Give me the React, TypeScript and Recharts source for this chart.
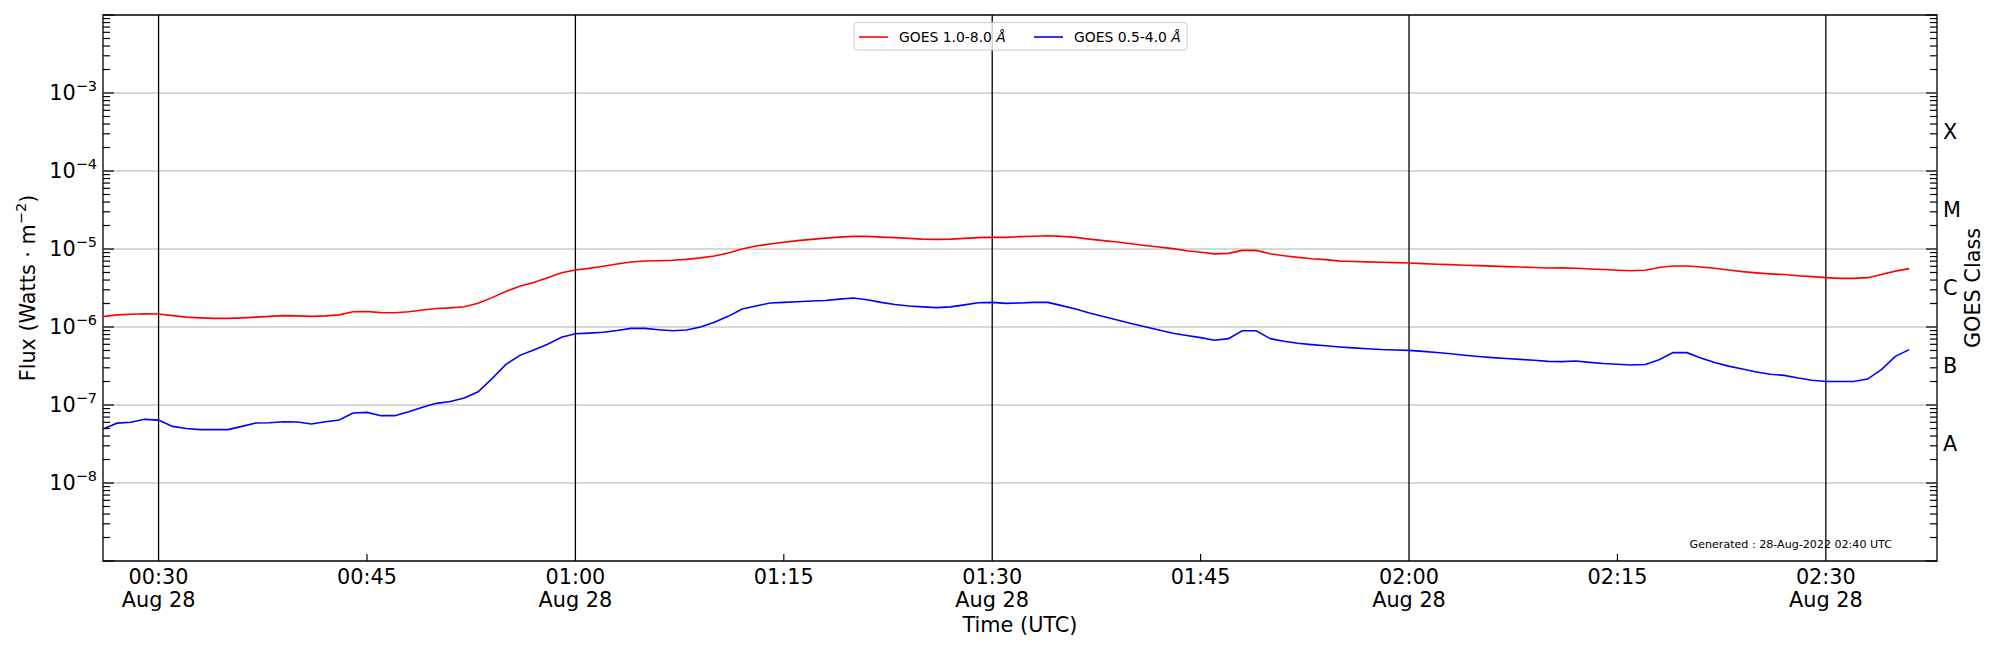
import React from 'react';
import { LineChart, Line, XAxis, YAxis, ReferenceLine, ReferenceArea } from 'recharts';

const FONT = '"DejaVu Sans", sans-serif';
const FS = 20.8;
const SUP = 14.5;

// GOES XRS, one sample per minute from 00:26 to 02:36 UTC
const firstMinute = 26;

const fluxLong = [
  1.36e-6, 1.43e-6, 1.46e-6, 1.48e-6, 1.47e-6, 1.40e-6, 1.34e-6, 1.31e-6, 1.29e-6, 1.29e-6,
  1.31e-6, 1.34e-6, 1.37e-6, 1.40e-6, 1.39e-6, 1.37e-6, 1.39e-6, 1.43e-6, 1.57e-6, 1.58e-6,
  1.53e-6, 1.52e-6, 1.57e-6, 1.65e-6, 1.73e-6, 1.76e-6, 1.82e-6, 2.01e-6, 2.38e-6, 2.86e-6,
  3.32e-6, 3.72e-6, 4.29e-6, 4.95e-6, 5.38e-6, 5.65e-6, 6.0e-6, 6.43e-6, 6.81e-6, 7.02e-6,
  7.08e-6, 7.16e-6, 7.37e-6, 7.7e-6, 8.13e-6, 8.9e-6, 1.0e-5, 1.09e-5, 1.16e-5, 1.22e-5,
  1.28e-5, 1.33e-5, 1.38e-5, 1.42e-5, 1.45e-5, 1.45e-5, 1.42e-5, 1.40e-5, 1.37e-5, 1.34e-5,
  1.33e-5, 1.34e-5, 1.37e-5, 1.40e-5, 1.41e-5, 1.41e-5, 1.44e-5, 1.46e-5, 1.48e-5, 1.45e-5,
  1.41e-5, 1.34e-5, 1.28e-5, 1.23e-5, 1.17e-5, 1.11e-5, 1.06e-5, 1.01e-5, 9.5e-6, 9.1e-6,
  8.65e-6, 8.8e-6, 9.6e-6, 9.6e-6, 8.7e-6, 8.2e-6, 7.8e-6, 7.5e-6, 7.3e-6, 7.0e-6,
  6.9e-6, 6.83e-6, 6.75e-6, 6.68e-6, 6.62e-6, 6.5e-6, 6.38e-6, 6.3e-6, 6.2e-6, 6.12e-6,
  6.03e-6, 5.95e-6, 5.88e-6, 5.8e-6, 5.7e-6, 5.72e-6, 5.66e-6, 5.55e-6, 5.45e-6, 5.35e-6,
  5.27e-6, 5.35e-6, 5.8e-6, 6.05e-6, 6.05e-6, 5.88e-6, 5.66e-6, 5.38e-6, 5.13e-6, 4.94e-6,
  4.8e-6, 4.7e-6, 4.55e-6, 4.42e-6, 4.29e-6, 4.2e-6, 4.2e-6, 4.29e-6, 4.7e-6, 5.2e-6,
  5.6e-6,
];

const fluxShort = [
  4.92e-8, 5.85e-8, 6.0e-8, 6.55e-8, 6.4e-8, 5.32e-8, 5.0e-8, 4.83e-8, 4.83e-8, 4.83e-8,
  5.32e-8, 5.88e-8, 5.93e-8, 6.1e-8, 6.05e-8, 5.7e-8, 6.1e-8, 6.43e-8, 7.89e-8, 8.05e-8,
  7.3e-8, 7.3e-8, 8.2e-8, 9.33e-8, 1.05e-7, 1.11e-7, 1.23e-7, 1.48e-7, 2.18e-7, 3.32e-7,
  4.33e-7, 5.07e-7, 6.0e-7, 7.37e-7, 8.2e-7, 8.35e-7, 8.55e-7, 9.0e-7, 9.6e-7, 9.6e-7,
  9.24e-7, 8.97e-7, 9.15e-7, 1.0e-6, 1.15e-6, 1.37e-6, 1.7e-6, 1.86e-6, 2.03e-6, 2.07e-6,
  2.11e-6, 2.15e-6, 2.19e-6, 2.28e-6, 2.35e-6, 2.24e-6, 2.07e-6, 1.94e-6, 1.86e-6, 1.81e-6,
  1.77e-6, 1.81e-6, 1.92e-6, 2.05e-6, 2.07e-6, 2.01e-6, 2.03e-6, 2.07e-6, 2.07e-6, 1.88e-6,
  1.7e-6, 1.51e-6, 1.36e-6, 1.23e-6, 1.11e-6, 1.01e-6, 9.15e-7, 8.3e-7, 7.8e-7, 7.3e-7,
  6.75e-7, 7.1e-7, 8.97e-7, 8.97e-7, 7.1e-7, 6.55e-7, 6.2e-7, 5.95e-7, 5.75e-7, 5.55e-7,
  5.4e-7, 5.27e-7, 5.15e-7, 5.08e-7, 5.02e-7, 4.87e-7, 4.72e-7, 4.55e-7, 4.35e-7, 4.18e-7,
  4.05e-7, 3.95e-7, 3.85e-7, 3.75e-7, 3.63e-7, 3.6e-7, 3.66e-7, 3.52e-7, 3.4e-7, 3.33e-7,
  3.26e-7, 3.3e-7, 3.81e-7, 4.69e-7, 4.69e-7, 4.0e-7, 3.5e-7, 3.15e-7, 2.9e-7, 2.65e-7,
  2.48e-7, 2.4e-7, 2.22e-7, 2.08e-7, 2.0e-7, 2.0e-7, 2.0e-7, 2.15e-7, 2.84e-7, 4.21e-7,
  5.13e-7,
];

const seriesNames = ['GOES 1.0-8.0 ', 'GOES 0.5-4.0 '];
const seriesColors = ['#ff0000', '#0000ff'];

const xTicks = [30, 45, 60, 75, 90, 105, 120, 135, 150];
const xTickLabels = ['00:30', '00:45', '01:00', '01:15', '01:30', '01:45', '02:00', '02:15', '02:30'];
const dateTicks = [30, 60, 90, 120, 150];
const dateLabel = 'Aug 28';

const decadeTicks = [1e-9, 1e-8, 1e-7, 1e-6, 1e-5, 1e-4, 1e-3, 1e-2];
const gridDecades = [1e-8, 1e-7, 1e-6, 1e-5, 1e-4, 1e-3];
const decadeExponents = ['−8', '−7', '−6', '−5', '−4', '−3'];
const minorSteps = [2, 3, 4, 5, 6, 7, 8, 9];
const classTicks = [3.162e-8, 3.162e-7, 3.162e-6, 3.162e-5, 3.162e-4];
const classLabels = ['A', 'B', 'C', 'M', 'X'];

const rows = fluxLong.map((v, i) => ({ t: firstMinute + i, long: v, short: fluxShort[i] }));

const minorTicks = decadeTicks.slice(0, -1).flatMap((d) => minorSteps.map((k) => k * d));
const leftTicks = [...decadeTicks, ...minorTicks];
const rightTicks = [...decadeTicks, ...minorTicks, ...classTicks];

const LeftTick = (props: any) => {
  const { x, y, payload } = props;
  const v = payload.value;
  const major = decadeTicks.includes(v);
  const idx = gridDecades.indexOf(v);
  return (
    <g>
      <line x1={x} x2={x + (major ? 11 : 7)} y1={y} y2={y} stroke="#000" strokeWidth={1.2} />
      {idx >= 0 && (
        <text x={x - 6} y={y + 7} textAnchor="end" fontSize={FS} fontFamily={FONT} fill="#000">
          10<tspan dy={-9} fontSize={SUP}>{decadeExponents[idx]}</tspan>
        </text>
      )}
    </g>
  );
};

const RightTick = (props: any) => {
  const { x, y, payload } = props;
  const v = payload.value;
  const ci = classTicks.indexOf(v);
  if (ci >= 0) {
    return (
      <text x={x + 6} y={y + 7} fontSize={FS} fontFamily={FONT} fill="#000">
        {classLabels[ci]}
      </text>
    );
  }
  const major = decadeTicks.includes(v);
  return <line x1={x} x2={x - (major ? 11 : 7)} y1={y} y2={y} stroke="#000" strokeWidth={1.2} />;
};

const TimeTick = (props: any) => {
  const { x, y, payload } = props;
  const i = xTicks.indexOf(payload.value);
  const dated = dateTicks.includes(payload.value);
  return (
    <g>
      {!dated && <line x1={x} x2={x} y1={y} y2={y - 7} stroke="#000" strokeWidth={1.2} />}
      <text x={x} y={y + 23} textAnchor="middle" fontSize={FS} fontFamily={FONT} fill="#000">
        {xTickLabels[i]}
      </text>
      {dated && (
        <text x={x} y={y + 46} textAnchor="middle" fontSize={FS} fontFamily={FONT} fill="#000">
          {dateLabel}
        </text>
      )}
    </g>
  );
};

const FluxTitle = (props: any) => {
  const { x, y, height } = props.viewBox;
  const bx = x - 8;
  const cy = y + height / 2;
  return (
    <text x={bx} y={cy} transform={`rotate(-90, ${bx}, ${cy})`} textAnchor="middle" fontSize={FS} fontFamily={FONT} fill="#000">
      Flux (Watts · m<tspan dy={-9} fontSize={SUP}>−2</tspan><tspan dy={9}>)</tspan>
    </text>
  );
};

const ClassTitle = (props: any) => {
  const { x, y, height } = props.viewBox;
  const bx = x + 43;
  const cy = y + height / 2;
  return (
    <text x={bx} y={cy} transform={`rotate(-90, ${bx}, ${cy})`} textAnchor="middle" fontSize={FS} fontFamily={FONT} fill="#000">
      GOES Class
    </text>
  );
};

const TimeTitle = (props: any) => {
  const { x, y, width } = props.viewBox;
  return (
    <text x={x + width / 2} y={y + 71} textAnchor="middle" fontSize={FS} fontFamily={FONT} fill="#000">
      Time (UTC)
    </text>
  );
};

const Overlay = () => (
  <svg width={2000} height={650} style={{ position: 'absolute', left: 0, top: 0, pointerEvents: 'none' }}>
    <rect x={854} y={22.5} width={333} height={27.5} rx={3} fill="#fff" fillOpacity={0.8} stroke="#cccccc" strokeWidth={1} />
    {seriesNames.map((name, i) => {
      const x0 = i === 0 ? 859 : 1034;
      return (
        <g key={name}>
          <line x1={x0} x2={x0 + 29} y1={37} y2={37} stroke={seriesColors[i]} strokeWidth={1.6} />
          <text x={x0 + 40} y={42} fontSize={13.9} fontFamily={FONT} fill="#000">
            {name}
            <tspan fontStyle="italic">Å</tspan>
          </text>
        </g>
      );
    })}
    <text x={1892} y={548} textAnchor="end" fontSize={11.1} fontFamily={FONT} fill="#000">
      Generated : 28-Aug-2022 02:40 UTC
    </text>
  </svg>
);

export default function App() {
  return (
    <div style={{ position: 'absolute', left: 0, top: 0, width: 2000, height: 650, background: '#fff' }}>
      <LineChart width={2000} height={650} data={rows} margin={{ top: 15, right: 13, bottom: 29, left: 43 }}>
        <XAxis
          dataKey="t"
          type="number"
          domain={[26, 158]}
          allowDataOverflow
          ticks={xTicks}
          interval={0}
          tick={TimeTick}
          tickLine={false}
          axisLine={false}
          tickSize={0}
          tickMargin={0}
          height={60}
          label={TimeTitle}
        />
        <YAxis
          yAxisId="flux"
          orientation="left"
          width={60}
          type="number"
          scale="log"
          domain={[1e-9, 1e-2]}
          allowDataOverflow
          ticks={leftTicks}
          interval={0}
          tick={LeftTick}
          tickLine={false}
          axisLine={false}
          tickSize={0}
          tickMargin={0}
          label={FluxTitle}
        />
        <YAxis
          yAxisId="goes"
          orientation="right"
          width={50}
          type="number"
          scale="log"
          domain={[1e-9, 1e-2]}
          allowDataOverflow
          ticks={rightTicks}
          interval={0}
          tick={RightTick}
          tickLine={false}
          axisLine={false}
          tickSize={0}
          tickMargin={0}
          label={ClassTitle}
        />
        {gridDecades.map((v) => (
          <ReferenceLine key={`h${v}`} yAxisId="flux" y={v} stroke="#b0b0b0" strokeWidth={1} />
        ))}
        {dateTicks.map((v) => (
          <ReferenceLine key={`v${v}`} yAxisId="flux" x={v} stroke="#000" strokeWidth={1.3} />
        ))}
        <Line yAxisId="flux" type="linear" dataKey="long" stroke={seriesColors[0]} strokeWidth={1.6} dot={false} isAnimationActive={false} />
        <Line yAxisId="flux" type="linear" dataKey="short" stroke={seriesColors[1]} strokeWidth={1.6} dot={false} isAnimationActive={false} />
        <ReferenceArea yAxisId="flux" x1={26} x2={158} y1={1e-9} y2={1e-2} fill="none" stroke="#000" strokeWidth={1.3} />
      </LineChart>
      <Overlay />
    </div>
  );
}
